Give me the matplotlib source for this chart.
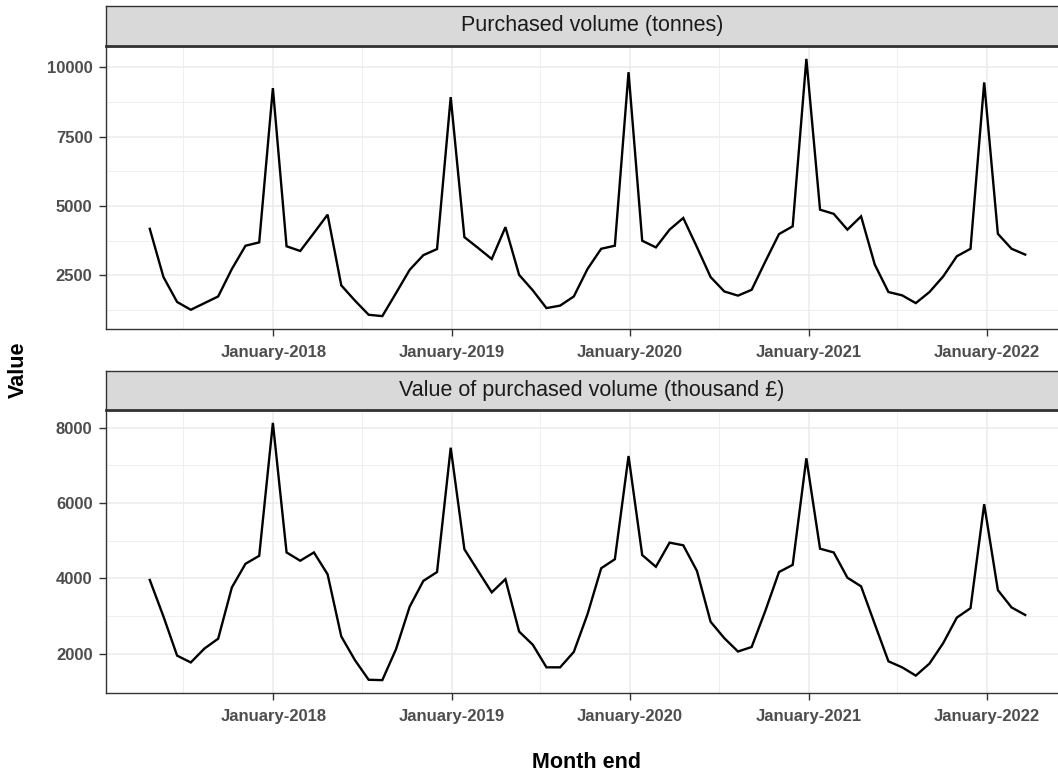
import matplotlib
matplotlib.use("Agg")
import matplotlib.pyplot as plt
import matplotlib.dates as mdates
import pandas as pd

# 4-weekly period ends (Sundays)
period_end = pd.date_range("2017-04-23", periods=65, freq="28D")

volume_tonnes = [
    4180, 2440, 1540, 1260, 1500, 1740, 2730, 3570, 3690, 9255,
    3550, 3380, 4030, 4690, 2140, 1590, 1080, 1030, 1860, 2700,
    3230, 3450, 8930, 3880, 3490, 3090, 4240, 2520, 1960, 1320,
    1410, 1740, 2730, 3460, 3570, 9830, 3750, 3510, 4150, 4570,
    3520, 2440, 1920, 1770, 1980, 3000, 3990, 4270, 10310, 4870,
    4720, 4150, 4630, 2890, 1900, 1780, 1500, 1900, 2460, 3190,
    3460, 9460, 4000, 3460, 3250,
]

value_thousand_gbp = [
    3960, 2990, 1950, 1770, 2140, 2400, 3760, 4390, 4600, 8130,
    4690, 4470, 4690, 4110, 2460, 1830, 1310, 1300, 2120, 3250,
    3935, 4170, 7470, 4775, 4200, 3630, 3980, 2590, 2240, 1640,
    1640, 2050, 3050, 4270, 4510, 7250, 4620, 4310, 4950, 4880,
    4200, 2850, 2415, 2060, 2180, 3140, 4170, 4360, 7190, 4790,
    4690, 4020, 3790, 2790, 1800, 1640, 1420, 1740, 2280, 2960,
    3210, 5970, 3690, 3230, 3030,
]

facet_titles = ["Purchased volume (tonnes)", "Value of purchased volume (thousand £)"]
y_major = [[2500, 5000, 7500, 10000], [2000, 4000, 6000, 8000]]
y_minor = [[1250, 3750, 6250, 8750], [3000, 5000, 7000]]

FONT = "Liberation Sans"
TICK_GREY = "#4D4D4D"
FRAME = "#333333"
GRID = "#EBEBEB"

W, H = 1058, 773
fig = plt.figure(figsize=(W / 100, H / 100), dpi=100)


def px_rect(left, top, right, bottom):
    return [left / W, 1 - bottom / H, (right - left) / W, (bottom - top) / H]


panels = [
    (px_rect(106, 46, 1069, 329), px_rect(106, 6, 1069, 46)),
    (px_rect(106, 410, 1069, 693), px_rect(106, 371, 1069, 410)),
]
series = [volume_tonnes, value_thousand_gbp]

for i, ((prect, srect), ys) in enumerate(zip(panels, series)):
    ax = fig.add_axes(prect)
    ax.plot(period_end, ys, color="black", lw=1.7, solid_joinstyle="miter", zorder=3)
    ax.margins(x=0.05, y=0.05)

    ax.xaxis.set_major_locator(mdates.YearLocator(1, month=1, day=1))
    ax.xaxis.set_minor_locator(mdates.YearLocator(1, month=7, day=1))
    ax.xaxis.set_major_formatter(mdates.DateFormatter("%B-%Y"))
    ax.set_yticks(y_major[i])
    ax.set_yticks(y_minor[i], minor=True)

    ax.grid(which="major", color=GRID, lw=1.1, zorder=0)
    ax.grid(which="minor", color=GRID, lw=0.55, zorder=0)
    ax.set_axisbelow(True)

    ax.tick_params(which="major", length=4.7, width=1.0, color=FRAME,
                   labelsize=12, labelcolor=TICK_GREY)
    ax.tick_params(axis="y", which="major", pad=5)
    ax.tick_params(axis="x", which="major", pad=6.5)
    ax.tick_params(which="minor", length=0)
    for lab in ax.get_xticklabels() + ax.get_yticklabels():
        lab.set_fontfamily(FONT)
        lab.set_fontweight("bold")
    for sp in ax.spines.values():
        sp.set_color(FRAME)
        sp.set_linewidth(1.0)

    # facet strip
    sax = fig.add_axes(srect)
    sax.set_facecolor("#D9D9D9")
    sax.set_xticks([])
    sax.set_yticks([])
    for sp in sax.spines.values():
        sp.set_color(FRAME)
        sp.set_linewidth(1.0)
    sax.spines["bottom"].set_linewidth(2.0)
    sax.text((592 - 106) / (1069 - 106), 0.5, facet_titles[i],
             transform=sax.transAxes, ha="center", va="center",
             fontsize=15.5, color="#1A1A1A", family=FONT)

fig.text(18 / W, 1 - 370 / H, "Value", rotation=90, ha="center", va="center",
         fontsize=15.5, fontweight="bold", family=FONT)
fig.text(587 / W, 1 - 763 / H, "Month end", ha="center", va="center",
         fontsize=15.5, fontweight="bold", family=FONT)

fig.savefig("out.png", dpi=100, facecolor="white")
